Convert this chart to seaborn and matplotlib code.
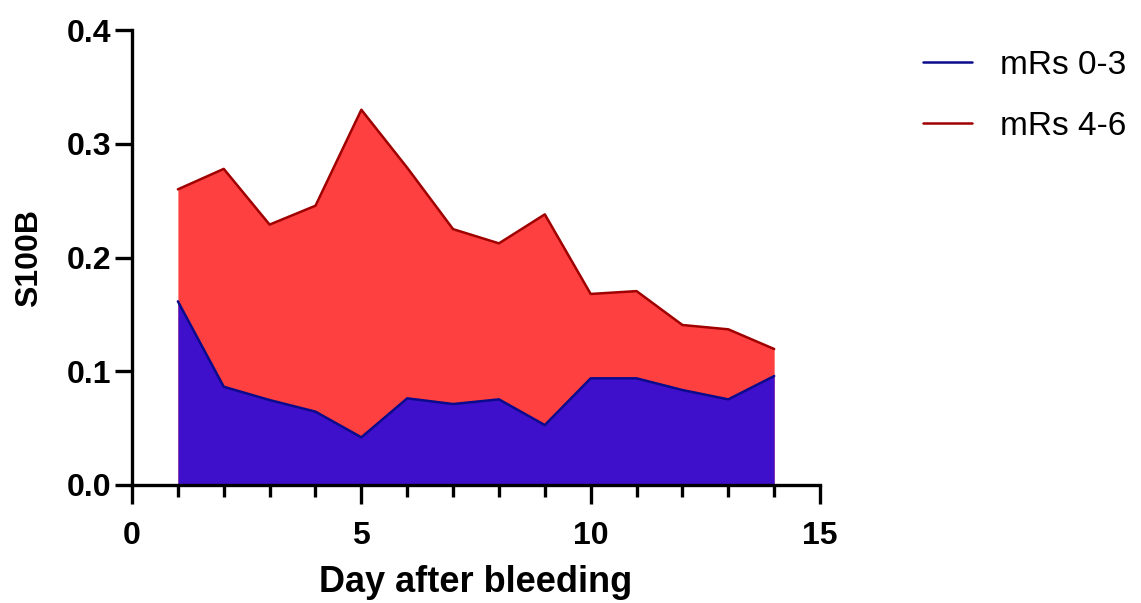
import numpy as np
import pandas as pd
from matplotlib import pyplot as plt
from matplotlib.ticker import MultipleLocator
import seaborn as sb

days = list(range(1, 15))
mrs_low = [0.1615, 0.0864, 0.0747, 0.0645, 0.0419, 0.0762, 0.0712,
           0.0753, 0.0527, 0.0938, 0.0938, 0.0835, 0.0753, 0.0958]
mrs_high = [0.260, 0.278, 0.229, 0.2456, 0.330, 0.279, 0.225,
            0.2125, 0.238, 0.168, 0.1705, 0.1407, 0.1369, 0.1196]
labels = ["mRs 0-3", "mRs 4-6"]

sb.set_style("ticks")
plt.rcParams["font.family"] = ["Liberation Sans", "DejaVu Sans"]
plt.rcParams["text.color"] = "black"
plt.rcParams["xtick.color"] = "black"
plt.rcParams["ytick.color"] = "black"
plt.rcParams["axes.labelcolor"] = "black"

df = pd.DataFrame({"day": days * 2,
                   "S100B": mrs_low + mrs_high,
                   "group": [labels[0]] * len(days) + [labels[1]] * len(days)})

fig = plt.figure(figsize=(11.41, 6.03), dpi=100)
ax = fig.add_axes([0.1157, 0.1957, 0.6030, 0.7543])

# red behind, blue in front
ax.fill_between(days, mrs_high, color="#FF4040", lw=0, zorder=1)
ax.fill_between(days, mrs_low, color="#3F10CC", lw=0, zorder=2)
sb.lineplot(df, x="day", y="S100B", hue="group",
            palette={labels[0]: "#0A0A8C", labels[1]: "#A00000"},
            hue_order=labels, lw=1.8, ax=ax, zorder=3)

ax.set_xlim(0, 15)
ax.set_ylim(0, 0.4)
ax.xaxis.set_major_locator(MultipleLocator(5))
ax.xaxis.set_minor_locator(MultipleLocator(1))
ax.yaxis.set_major_locator(MultipleLocator(0.1))
ax.yaxis.set_major_formatter(plt.FormatStrFormatter("%.1f"))

for s in ["top", "right"]:
    ax.spines[s].set_visible(False)
for s in ["left", "bottom"]:
    ax.spines[s].set_linewidth(2.4)
    ax.spines[s].set_color("black")
ax.tick_params(axis="x", which="major", length=14, width=2.4, labelsize=23, pad=12)
ax.tick_params(axis="x", which="minor", length=8.5, width=2.4)
ax.tick_params(axis="y", which="major", length=12, width=2.4, labelsize=23, pad=3)
for t in ax.get_xticklabels() + ax.get_yticklabels():
    t.set_fontweight("bold")

ax.set_xlabel("Day after bleeding", fontsize=26, fontweight="bold", labelpad=10)
ax.set_ylabel("S100B", fontsize=23, fontweight="bold", labelpad=16)

leg = ax.legend(loc="upper left", bbox_to_anchor=(0.809, 0.917),
                bbox_transform=fig.transFigure, frameon=False,
                borderpad=0, borderaxespad=0,
                fontsize=24, handlelength=1.47, handletextpad=0.85,
                labelspacing=0.9)
for h in leg.get_lines():
    h.set_linewidth(1.8)

fig.savefig("out.png", dpi=100)
